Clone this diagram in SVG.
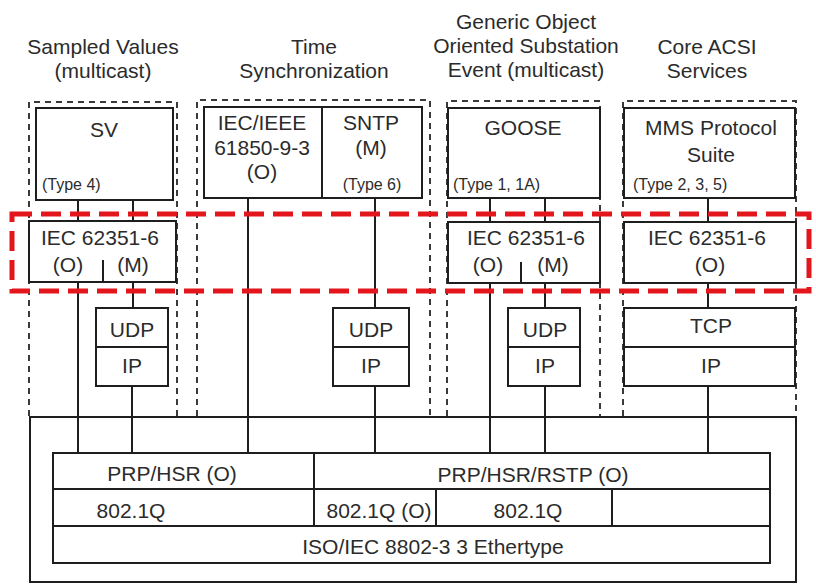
<svg xmlns="http://www.w3.org/2000/svg" width="816" height="585" viewBox="0 0 816 585">
<style>
text{font-family:"Liberation Sans",Arial,sans-serif;fill:#2b2b2b;font-size:21px;text-anchor:middle}
text.s{font-size:16px;text-anchor:start}
text.sc{font-size:16px}
.b{fill:#fff;stroke:#1e1e1e;stroke-width:2}
.ln{fill:none;stroke:#1e1e1e;stroke-width:2}
.dash{fill:none;stroke:#3a3a3a;stroke-width:2;stroke-dasharray:6 5}
.red{fill:none;stroke:#e3161b;stroke-width:5;stroke-dasharray:20 9}
</style>
<rect width="816" height="585" fill="#fff"/>

<g id="titles">
<text x="103" y="54">Sampled Values</text>
<text x="103" y="78">(multicast)</text>
<text x="314" y="54">Time</text>
<text x="314" y="78">Synchronization</text>
<text x="526" y="29">Generic Object</text>
<text x="526" y="53">Oriented Substation</text>
<text x="526" y="77">Event (multicast)</text>
<text x="707" y="54">Core ACSI</text>
<text x="707" y="78">Services</text>
</g>

<g id="frames">
<path class="dash" d="M29,416 V102 H177 V416"/>
<path class="dash" d="M197,416 V100 H430 V416"/>
<path class="dash" d="M447,416 V101 H600 V416"/>
<path class="dash" d="M623,416 V101 H796 V416"/>
</g>

<g id="outer">
<rect class="b" x="30" y="417" width="766" height="165"/>
</g>

<g id="connectors">
<path class="ln" d="M78,200 V221 M133,200 V221 M78,282 V453 M133,282 V308 M132,386 V453"/>
<path class="ln" d="M248,198 V453 M375,198 V308 M375,386 V453"/>
<path class="ln" d="M490,198 V222 M545,198 V222 M490,283 V453 M545,283 V308 M545,386 V453"/>
<path class="ln" d="M708,198 V222 M708,283 V308 M708,386 V453"/>
</g>

<g id="sv">
<rect class="b" x="36" y="108" width="137" height="92"/>
<text x="104" y="137">SV</text>
<text class="s" x="42" y="190">(Type 4)</text>
</g>

<g id="timesync">
<rect class="b" x="204" y="107" width="218" height="91"/>
<line class="ln" x1="322" y1="107" x2="322" y2="198"/>
<text x="262" y="130">IEC/IEEE</text>
<text x="262" y="155">61850-9-3</text>
<text x="262" y="179">(O)</text>
<text x="371" y="130">SNTP</text>
<text x="371" y="155">(M)</text>
<text class="sc" x="372" y="190">(Type 6)</text>
</g>

<g id="goose">
<rect class="b" x="448" y="108" width="152" height="90"/>
<text x="523" y="135">GOOSE</text>
<text class="s" x="453" y="190">(Type 1, 1A)</text>
</g>

<g id="mms">
<rect class="b" x="624" y="108" width="171" height="90"/>
<text x="711" y="135">MMS Protocol</text>
<text x="711" y="162">Suite</text>
<text class="s" x="633" y="190">(Type 2, 3, 5)</text>
</g>

<g id="iec-sv">
<rect class="b" x="29" y="221" width="147" height="61"/>
<line class="ln" x1="103" y1="260" x2="103" y2="282"/>
<text x="100" y="245">IEC 62351-6</text>
<text x="68" y="272">(O)</text>
<text x="133" y="272">(M)</text>
</g>

<g id="iec-goose">
<rect class="b" x="448" y="222" width="152" height="61"/>
<line class="ln" x1="521" y1="262" x2="521" y2="283"/>
<text x="526" y="245">IEC 62351-6</text>
<text x="488" y="272">(O)</text>
<text x="553" y="272">(M)</text>
</g>

<g id="iec-mms">
<rect class="b" x="624" y="222" width="172" height="61"/>
<text x="707" y="245">IEC 62351-6</text>
<text x="710" y="272">(O)</text>
</g>

<g id="udp-ip-sv">
<rect class="b" x="96" y="308" width="72" height="78"/>
<line class="ln" x1="96" y1="347" x2="168" y2="347"/>
<text x="132" y="337">UDP</text>
<text x="132" y="373">IP</text>
</g>

<g id="udp-ip-time">
<rect class="b" x="333" y="308" width="76" height="78"/>
<line class="ln" x1="333" y1="347" x2="409" y2="347"/>
<text x="371" y="337">UDP</text>
<text x="371" y="373">IP</text>
</g>

<g id="udp-ip-goose">
<rect class="b" x="508" y="308" width="72" height="78"/>
<line class="ln" x1="508" y1="347" x2="580" y2="347"/>
<text x="545" y="337">UDP</text>
<text x="545" y="373">IP</text>
</g>

<g id="tcp-ip">
<rect class="b" x="624" y="308" width="171" height="78"/>
<line class="ln" x1="624" y1="347" x2="795" y2="347"/>
<text x="711" y="333">TCP</text>
<text x="711" y="373">IP</text>
</g>

<g id="link-layer">
<rect class="b" x="53" y="453" width="717" height="110"/>
<path class="ln" d="M53,489 H770 M53,526 H770 M314,453 V526 M436,489 V526 M612,489 V526"/>
<text x="172" y="481">PRP/HSR (O)</text>
<text x="533" y="482">PRP/HSR/RSTP (O)</text>
<text x="131" y="518">802.1Q</text>
<text x="379" y="518">802.1Q (O)</text>
<text x="528" y="518">802.1Q</text>
<text x="433" y="554">ISO/IEC 8802-3 3 Ethertype</text>
</g>

<g id="highlight">
<rect class="red" x="12" y="214" width="797" height="77"/>
</g>
</svg>
